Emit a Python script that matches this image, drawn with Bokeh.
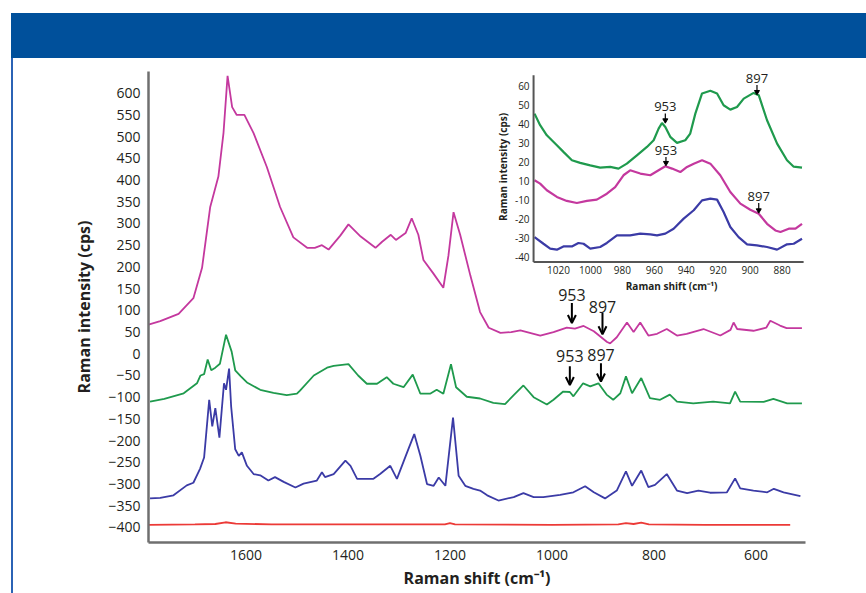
from bokeh.plotting import figure
from bokeh.models import Range1d, FixedTicker, Arrow, OpenHead, Div
from bokeh.layouts import column, row
from bokeh.core.properties import value
from bokeh.embed import file_html
from bokeh.resources import INLINE

# ---------------- main chart data (Raman shift, cm-1 / intensity, cps) -------------
pink_shift = [1791, 1768, 1732, 1703, 1686, 1670, 1654, 1644, 1636, 1627, 1618, 1603, 1585, 1559,
              1533, 1507, 1480, 1465, 1451, 1438, 1415, 1399, 1375, 1346, 1333, 1316, 1306, 1287,
              1275, 1262, 1252, 1232, 1213, 1203, 1193, 1180, 1160, 1141, 1124, 1101, 1080, 1062,
              1023, 997, 971, 955, 938, 918, 892, 886, 873, 853, 840, 827, 811, 794, 775, 755, 736,
              703, 670, 650, 644, 637, 605, 580, 572, 553, 540, 510]
pink_int = [67, 75, 92, 128, 198, 338, 408, 508, 640, 568, 550, 550, 508, 430,
            338, 268, 244, 244, 250, 240, 272, 298, 270, 244, 258, 274, 262, 278,
            312, 274, 216, 184, 152, 226, 326, 274, 180, 96, 60, 48, 50, 54,
            42, 50, 60, 58, 64, 52, 27, 24, 38, 72, 50, 72, 42, 46, 57, 42, 46,
            57, 42, 55, 72, 57, 53, 60, 76, 65, 59, 59]

green_shift = [1788, 1760, 1722, 1696, 1689, 1682, 1675, 1668, 1660, 1651, 1639, 1628, 1621, 1610,
               1598, 1572, 1546, 1520, 1500, 1494, 1467, 1441, 1428, 1399, 1380, 1363, 1343, 1324,
               1311, 1291, 1273, 1258, 1239, 1226, 1213, 1198, 1188, 1167, 1141, 1115, 1092, 1075,
               1056, 1036, 1010, 997, 978, 965, 958, 939, 925, 909, 893, 880, 866, 855, 843, 825,
               808, 788, 769, 755, 723, 684, 651, 641, 631, 585, 566, 539, 510]
green_int = [-110, -104, -91, -68, -50, -47, -13, -38, -32, -23, 44, 5, -38, -52,
             -66, -83, -90, -95, -92, -85, -50, -32, -28, -24, -50, -69, -69, -54,
             -69, -77, -48, -92, -92, -83, -92, -24, -77, -99, -103, -113, -116, -95,
             -73, -100, -117, -106, -87, -88, -98, -68, -75, -68, -94, -106, -91, -52, -91, -56,
             -102, -106, -94, -110, -114, -110, -114, -87, -110, -111, -104, -114, -114]

blue_shift = [1788, 1768, 1742, 1716, 1703, 1690, 1682, 1672, 1666, 1660, 1652, 1643, 1639, 1633,
              1629, 1621, 1614, 1608, 1598, 1585, 1572, 1556, 1543, 1526, 1503, 1487, 1461, 1451,
              1445, 1428, 1405, 1395, 1382, 1350, 1337, 1317, 1304, 1284, 1270, 1258, 1245, 1232,
              1222, 1209, 1194, 1183, 1170, 1154, 1141, 1127, 1105, 1075, 1056, 1036, 1017, 984,
              958, 935, 918, 896, 873, 855, 843, 825, 811, 798, 775, 755, 735, 713, 690, 657,
              641, 631, 605, 578, 565, 546, 513]
blue_int = [-333, -332, -326, -303, -297, -265, -239, -106, -167, -125, -193, -68, -83, -34,
            -121, -220, -235, -227, -258, -277, -280, -292, -284, -295, -308, -299, -292, -273,
            -284, -277, -246, -258, -288, -288, -277, -258, -288, -227, -185, -235, -300, -304,
            -285, -304, -147, -281, -304, -311, -315, -326, -338, -330, -321, -330, -330, -325,
            -319, -305, -319, -333, -315, -271, -304, -269, -307, -302, -277, -315, -321, -315, -320, -319,
            -287, -310, -315, -319, -311, -319, -328]

red_shift = [1791, 1700, 1660, 1640, 1620, 1550, 1400, 1210, 1200, 1190, 1000, 870, 855, 840,
             825, 810, 700, 533]
red_int = [-394, -393, -392, -388, -391, -393, -393, -393, -390, -393, -394, -393, -390, -392,
           -389, -393, -394, -394]

y_ticks = list(range(-400, 601, 50))
x_ticks = [1600, 1400, 1200, 1000, 800, 600]

# main-chart peak markers
mark_text = ["953", "897", "953", "897"]
mark_x = [961, 901, 965, 904]
mark_text_y = [136, 108, -6, -2]
mark_arrow_top = [117, 94, -29, -22]
mark_arrow_tip = [71, 45, -72, -64]

# ---------------- inset data (950-870 cm-1 zoom) -------------
ins_green_shift = [1035.0, 1031.5, 1027.3, 1021.0, 1016.9, 1011.6, 1006.4, 1000.1, 993.9, 987.6,
                   982.4, 977.2, 970.9, 964.6, 960.4, 957.3, 955.2, 953.1, 950.0, 945.8, 940.6,
                   937.5, 934.3, 930.1, 924.9, 920.7, 916.6, 912.4, 908.2, 904.0, 897.8, 894.6,
                   889.4, 883.1, 876.9, 872.7, 867.5]
ins_green_int = [45.4, 39.3, 34.0, 28.8, 25.3, 20.9, 19.5, 18.2, 17.0, 17.4,
                 16.5, 19.1, 23.5, 27.9, 31.4, 37.5, 40.5, 38.4, 33.2, 30.0, 31.4,
                 34.9, 45.4, 56.0, 57.4, 56.0, 49.8, 47.5, 48.9, 53.3, 56.3, 55.1,
                 41.9, 29.6, 20.9, 17.5, 17.0]

ins_pink_shift = [1035.0, 1031.5, 1027.3, 1021.0, 1014.8, 1008.5, 1002.2, 996.0, 989.7, 984.5,
                  979.3, 975.1, 968.8, 962.5, 957.3, 953.1, 948.9, 943.7, 939.5, 935.3, 930.1,
                  924.9, 918.7, 912.4, 906.1, 899.9, 894.6, 889.4, 884.2, 881.0, 875.8, 871.6, 867.5]
ins_pink_int = [10.4, 8.6, 5.1, 1.6, -0.5, -1.6, -0.5, 0.2, 3.3, 6.8,
                13.0, 15.6, 13.9, 13.0, 15.6, 17.7, 16.5, 14.7, 17.4, 19.1, 20.9,
                19.1, 13.0, 4.2, -1.9, -5.1, -7.2, -12.5, -16.0, -16.8, -15.1, -15.1, -12.5]

ins_blue_shift = [1035.0, 1029.4, 1025.2, 1021.0, 1016.9, 1011.6, 1007.5, 1004.3, 1000.1, 993.9,
                  989.7, 983.4, 975.1, 968.8, 962.5, 958.3, 953.1, 947.9, 941.6, 935.3, 930.1,
                  924.9, 920.7, 916.6, 912.4, 907.2, 901.9, 895.7, 889.4, 883.1, 876.9, 872.7, 867.5]
ins_blue_int = [-19.5, -23.0, -25.6, -26.1, -24.4, -24.4, -22.6, -23.0, -25.6, -24.7,
                -22.6, -18.6, -18.6, -17.7, -18.1, -18.6, -17.7, -15.1, -9.8, -5.4, -0.2,
                0.7, 0.2, -6.3, -14.2, -19.5, -23.3, -23.9, -24.7, -26.1, -23.3, -23.0, -20.4]

inset_x_ticks = [1020, 1000, 980, 960, 940, 920, 900, 880]
inset_y_tick_pos = [60, 50, 40, 30, 20, 10, 0, -10, -20, -30]
inset_y_tick_labels = ["60", "50", "40", "30", "20", "10", "-10", "-20", "-30", "-40"]

ins_mark_text = ["953", "897", "953", "897"]
ins_mark_x = [953.1, 895.7, 952.7, 894.6]
ins_mark_text_y = [48.9, 63.9, 26.1, 1.9]
ins_mark_top = [45.4, 60.4, 22.6, -1.6]
ins_mark_tip = [41.9, 56.8, 19.5, -5.4]

# ---------------- styling -------------
PINK = "#c4389e"
GREEN = "#1f9a4d"
BLUE = "#3b3ba6"
RED = "#ec3a37"
HEADER = "#00509b"
FONT = "Open Sans"
TXT = "#231f20"

p = figure(width=850, height=535, output_backend="svg", toolbar_location=None,
           x_range=Range1d(1791, 503), y_range=Range1d(-434.6, 650),
           min_border_left=135, min_border_right=58, min_border_top=13, min_border_bottom=51)
p.grid.visible = False
p.outline_line_color = None
p.background_fill_color = "white"
p.border_fill_color = "white"

for ax in (p.xaxis[0], p.yaxis[0]):
    ax.major_tick_line_color = None
    ax.minor_tick_line_color = None
    ax.major_tick_out = 0
    ax.major_tick_in = 0
    ax.minor_tick_out = 0
    ax.axis_line_color = "#6f6f6f"
    ax.axis_line_width = 2.5
    ax.major_label_text_font = FONT
    ax.major_label_text_font_size = "14px"
    ax.major_label_text_color = TXT
    ax.axis_label_text_font = FONT
    ax.axis_label_text_font_style = "bold"
    ax.axis_label_text_font_size = "16px"
    ax.axis_label_text_color = TXT

p.yaxis.ticker = FixedTicker(ticks=y_ticks)
p.xaxis.ticker = FixedTicker(ticks=x_ticks)
p.yaxis.major_label_standoff = 8
p.xaxis.major_label_standoff = 7
p.yaxis.axis_label = "Raman intensity (cps)"
p.xaxis.axis_label = "Raman shift (cm\u207b\u00b9)"
p.yaxis.axis_label_standoff = 10
p.xaxis.axis_label_standoff = 4

p.line(red_shift, red_int, color=RED, line_width=1.8)
p.line(blue_shift, blue_int, color=BLUE, line_width=1.8)
p.line(green_shift, green_int, color=GREEN, line_width=1.8)
p.line(pink_shift, pink_int, color=PINK, line_width=1.8)

p.text(x=mark_x, y=mark_text_y, text=mark_text, text_font=value(FONT), text_font_size="16px",
       text_align="center", text_baseline="middle", text_color=TXT)
for xx, y0, y1 in zip(mark_x, mark_arrow_top, mark_arrow_tip):
    p.add_layout(Arrow(end=OpenHead(size=8, line_width=2, line_color="black"),
                       x_start=xx, y_start=y0, x_end=xx, y_end=y1,
                       line_width=2, line_color="black"))

# ---------------- inset as sub-coordinate system -------------
IX0, IX1 = 1035.6, 866.5
IY0, IY1 = -32.6, 65.6
ins = p.subplot(x_source=Range1d(IX0, IX1), y_source=Range1d(IY0, IY1),
                x_target=Range1d(1036.1, 506.7), y_target=Range1d(211.3, 641.5))

ins.line(ins_blue_shift, ins_blue_int, color=BLUE, line_width=2.2)
ins.line(ins_pink_shift, ins_pink_int, color=PINK, line_width=2.2)
ins.line(ins_green_shift, ins_green_int, color=GREEN, line_width=2.2)

ins.segment(x0=[IX0, IX0], y0=[IY0, IY0], x1=[IX0, IX1], y1=[IY1, IY0],
            line_color="#555555", line_width=2)
ins.text(x=inset_x_ticks, y=[IY0] * len(inset_x_ticks), text=[str(t) for t in inset_x_ticks],
         text_font=value(FONT), text_font_size="10px", text_align="center",
         text_baseline="top", y_offset=4, text_color=TXT)
ins.text(x=[IX0] * len(inset_y_tick_pos), y=inset_y_tick_pos, text=inset_y_tick_labels,
         text_font=value(FONT), text_font_size="10px", text_align="right",
         text_baseline="middle", x_offset=-4, text_color=TXT)
ins.text(x=[949.2], y=[-45.4], text=["Raman shift (cm\u207b\u00b9)"], text_font=value(FONT),
         text_font_size="10px", text_font_style="bold", text_align="center",
         text_baseline="middle", text_color=TXT)
ins.text(x=[1054.5], y=[17.4], text=["Raman intensity (cps)"], text_font=value(FONT),
         text_font_size="10px", text_font_style="bold", text_align="center",
         text_baseline="middle", angle=1.5708, text_color=TXT)

ins.text(x=ins_mark_x, y=ins_mark_text_y, text=ins_mark_text, text_font=value(FONT),
         text_font_size="13px", text_align="center", text_baseline="middle", text_color=TXT)
ins.segment(x0=ins_mark_x, y0=ins_mark_top, x1=ins_mark_x, y1=ins_mark_tip,
            line_color="black", line_width=1.2)
ins.scatter(x=ins_mark_x, y=ins_mark_tip, marker="inverted_triangle", size=5, color="black")

# ---------------- page frame -------------
header = Div(text="", width=855, height=45, margin=(13, 0, 0, 11),
             styles={"background-color": HEADER})
left_rule = Div(text="", width=2, height=535, margin=(0, 0, 0, 11),
                styles={"background-color": "#2b63b5"})
layout = column(header, row(left_rule, p, spacing=0), spacing=0)

open("out.html", "w").write(file_html(layout, INLINE))
